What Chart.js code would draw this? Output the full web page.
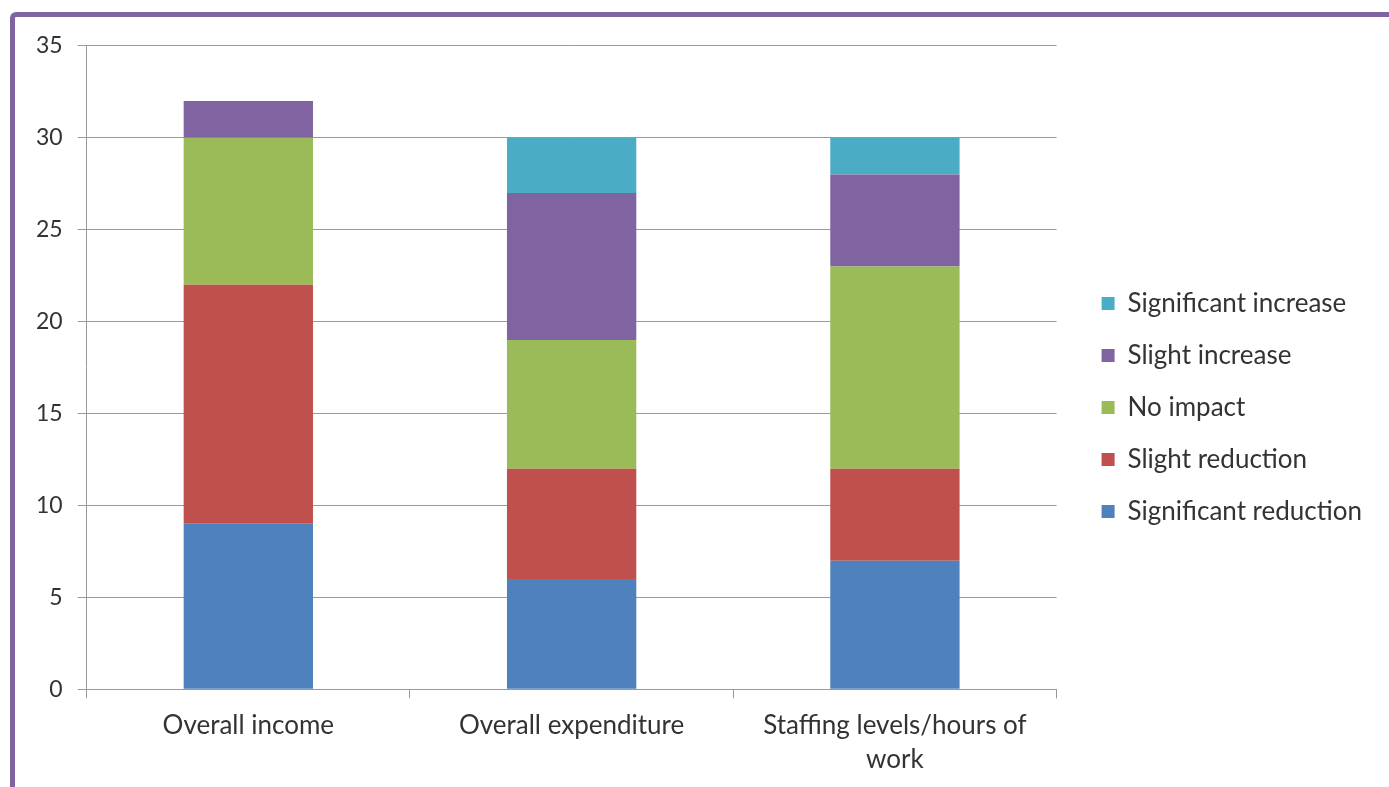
<!DOCTYPE html>
<html>
<head>
<meta charset="utf-8">
<script src="https://cdn.jsdelivr.net/npm/chart.js@4/dist/chart.umd.min.js"></script>
<style>
  html, body { margin: 0; padding: 0; background: #fff; overflow: hidden; }
  #frame { position: absolute; left: 10px; top: 12px; width: 1400px; height: 800px;
           border-left: 5px solid #8064A2; border-top: 5px solid #8064A2; border-top-left-radius: 6px; }
  #wrap { position: absolute; left: 15px; top: 17px; width: 1374px; height: 770px; }
</style>
</head>
<body>
<div id="frame"></div>
<div id="wrap"><canvas id="c"></canvas></div>
<script>
const categories = ['Overall income', 'Overall expenditure', ['Staffing levels/hours of', 'work']];
const seriesNames = ['Significant reduction', 'Slight reduction', 'No impact', 'Slight increase', 'Significant increase'];
const significantReduction = [9, 6, 7];
const slightReduction = [13, 6, 5];
const noImpact = [8, 7, 11];
const slightIncrease = [2, 8, 5];
const significantIncrease = [0, 3, 2];
const yTicks = [0, 5, 10, 15, 20, 25, 30, 35];
const colors = ['#4F81BD', '#C0504D', '#9BBB59', '#8064A2', '#4BACC6'];

const seriesValues = [significantReduction, slightReduction, noImpact, slightIncrease, significantIncrease];
const FONT = 'Lato, "Open Sans", sans-serif';
const LEGEND_GAP = 19;
const LEGEND_LIFT = 7;

// Widen the legend box (shrinking the plot area) while keeping its items in place.
const legendGap = {
  id: 'legendGap',
  beforeUpdate(chart) {
    const lg = chart.legend;
    if (lg && !lg._gapPatched) {
      const fit = lg.fit;
      lg.fit = function () { fit.call(this); this.width += LEGEND_GAP; };
      lg._gapPatched = true;
    }
  },
  afterLayout(chart) {
    const lg = chart.legend;
    if (lg) {
      lg.left += LEGEND_GAP;
      lg.top -= LEGEND_LIFT;
      lg.bottom -= LEGEND_LIFT;
    }
  }
};

new Chart(document.getElementById('c'), {
  type: 'bar',
  data: {
    labels: categories,
    datasets: seriesNames.map((n, i) => ({
      label: n,
      data: seriesValues[i],
      backgroundColor: colors[i],
      borderWidth: 0,
      categoryPercentage: 1,
      barPercentage: 0.4
    }))
  },
  plugins: [legendGap],
  options: {
    responsive: true,
    maintainAspectRatio: false,
    animation: false,
    layout: { padding: { left: 6, top: 25, right: 17, bottom: 0 } },
    plugins: {
      tooltip: { enabled: false },
      legend: {
        position: 'right',
        reverse: true,
        labels: {
          boxWidth: 13, boxHeight: 13, padding: 26,
          color: '#333', font: { family: FONT, size: 26 }
        }
      }
    },
    scales: {
      x: {
        stacked: true,
        grid: { drawOnChartArea: false, offset: true, tickLength: 9, color: '#999' },
        border: { color: '#999' },
        ticks: { color: '#333', font: { family: FONT, size: 26, lineHeight: 1.32 }, padding: 10, maxRotation: 0 }
      },
      y: {
        stacked: true,
        min: 0, max: 35,
        afterBuildTicks: (axis) => { axis.ticks = yTicks.map(v => ({ value: v })); },
        grid: { color: '#999', tickLength: 9 },
        border: { color: '#999' },
        ticks: { color: '#333', font: { family: FONT, size: 23 }, padding: 15 }
      }
    }
  }
});
</script>
</body>
</html>
